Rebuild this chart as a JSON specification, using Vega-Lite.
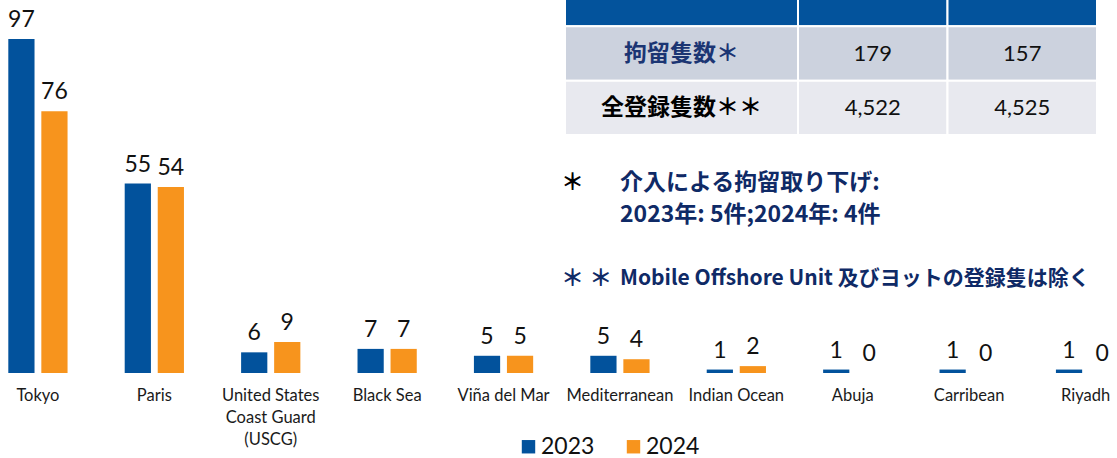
{
  "$schema": "https://vega.github.io/schema/vega-lite/v6.json",
  "width": 1117,
  "height": 373,
  "autosize": "none",
  "padding": {"left": 0, "top": 0, "right": 0, "bottom": 85},
  "background": "white",
  "config": {"view": {"stroke": null}, "font": "Lato"},
  "datasets": {
    "bars": [
      {"port": "Tokyo", "year": "2023", "count": 97},
      {"port": "Tokyo", "year": "2024", "count": 76},
      {"port": "Paris", "year": "2023", "count": 55},
      {"port": "Paris", "year": "2024", "count": 54},
      {"port": "United States Coast Guard (USCG)", "year": "2023", "count": 6},
      {"port": "United States Coast Guard (USCG)", "year": "2024", "count": 9},
      {"port": "Black Sea", "year": "2023", "count": 7},
      {"port": "Black Sea", "year": "2024", "count": 7},
      {"port": "Viña del Mar", "year": "2023", "count": 5},
      {"port": "Viña del Mar", "year": "2024", "count": 5},
      {"port": "Mediterranean", "year": "2023", "count": 5},
      {"port": "Mediterranean", "year": "2024", "count": 4},
      {"port": "Indian Ocean", "year": "2023", "count": 1},
      {"port": "Indian Ocean", "year": "2024", "count": 2},
      {"port": "Abuja", "year": "2023", "count": 1},
      {"port": "Abuja", "year": "2024", "count": 0},
      {"port": "Carribean", "year": "2023", "count": 1},
      {"port": "Carribean", "year": "2024", "count": 0},
      {"port": "Riyadh", "year": "2023", "count": 1},
      {"port": "Riyadh", "year": "2024", "count": 0}
    ],
    "table": [
      {"row": "header", "col": "label", "text": ""},
      {"row": "header", "col": "2023", "text": ""},
      {"row": "header", "col": "2024", "text": ""},
      {"row": "detained", "col": "label", "text": "拘留隻数＊"},
      {"row": "detained", "col": "2023", "text": "179"},
      {"row": "detained", "col": "2024", "text": "157"},
      {"row": "total", "col": "label", "text": "全登録隻数＊＊"},
      {"row": "total", "col": "2023", "text": "4,522"},
      {"row": "total", "col": "2024", "text": "4,525"}
    ],
    "notes": [
      {"line": "n1", "mark": "＊", "text": "介入による拘留取り下げ:"},
      {"line": "n2", "mark": "", "text": "2023年: 5件;2024年: 4件"},
      {"line": "n3", "mark": "＊ ＊", "text": "Mobile Offshore Unit 及びヨットの登録隻は除く"}
    ]
  },
  "resolve": {"scale": {"x": "independent", "y": "independent", "color": "independent", "size": "independent"}},
  "layer": [
    {
      "data": {"name": "bars"},
      "encoding": {
        "x": {
          "field": "port", "type": "nominal", "sort": null,
          "scale": {"paddingInner": 0.491, "paddingOuter": 0.0435, "align": 0.82},
          "axis": {
            "title": null, "domain": false, "ticks": false, "labelAngle": 0,
            "labelFont": "Lato", "labelFontSize": 16.5, "labelColor": "#1a1a1a",
            "labelPadding": 14, "labelLineHeight": 22, "labelBaseline": "top", "labelLimit": 0,
            "labelExpr": "datum.value === 'United States Coast Guard (USCG)' ? ['United States', 'Coast Guard', '(USCG)'] : datum.value"
          }
        },
        "xOffset": {"field": "year", "type": "nominal", "scale": {"paddingInner": 0.206, "paddingOuter": 0}},
        "y": {"field": "count", "type": "quantitative", "scale": {"domain": [0, 108.3], "nice": false, "zero": true}, "axis": null}
      },
      "layer": [
        {
          "mark": {"type": "bar"},
          "encoding": {
            "color": {
              "field": "year", "type": "nominal",
              "scale": {"domain": ["2023", "2024"], "range": ["#02529C", "#F7941D"]},
              "legend": {
                "orient": "none", "legendX": 517, "legendY": 435, "direction": "horizontal",
                "title": null, "symbolType": "square", "symbolSize": 180, "symbolStrokeWidth": 0,
                "labelFont": "Lato", "labelFontSize": 23, "labelColor": "#111111",
                "columnPadding": 27, "labelOffset": 1, "padding": 0
              }
            }
          }
        },
        {
          "mark": {"type": "text", "baseline": "alphabetic", "dy": -12, "fontSize": 23, "font": "Lato", "color": "#111111"},
          "encoding": {"text": {"field": "count", "type": "quantitative"}}
        }
      ]
    },
    {
      "data": {"name": "table"},
      "transform": [{"filter": "datum.col === 'label'"}],
      "encoding": {
        "x": {"field": "col", "type": "nominal", "scale": {"range": [565, 798], "paddingInner": 0, "paddingOuter": 0}, "axis": null},
        "y": {"field": "row", "type": "nominal", "sort": null, "scale": {"domain": ["header", "detained", "total"], "range": [-28, 135], "paddingInner": 0, "paddingOuter": 0}, "axis": null}
      },
      "layer": [
        {
          "mark": {"type": "rect", "stroke": "white", "strokeWidth": 2},
          "encoding": {
            "color": {"field": "row", "type": "nominal", "scale": {"domain": ["header", "detained", "total"], "range": ["#03539C", "#CCD2DE", "#E8E9EF"]}, "legend": null}
          }
        },
        {
          "mark": {"type": "text", "font": "Noto Sans CJK JP", "fontWeight": "bold", "fontSize": 23, "baseline": "middle"},
          "encoding": {
            "text": {"field": "text"},
            "color": {"condition": {"test": "datum.row === 'detained'", "value": "#1B3573"}, "value": "#000000"}
          }
        }
      ]
    },
    {
      "data": {"name": "table"},
      "transform": [{"filter": "datum.col !== 'label'"}],
      "encoding": {
        "x": {"field": "col", "type": "nominal", "scale": {"domain": ["2023", "2024"], "range": [798, 1097], "paddingInner": 0, "paddingOuter": 0}, "axis": null},
        "y": {"field": "row", "type": "nominal", "sort": null, "scale": {"domain": ["header", "detained", "total"], "range": [-28, 135], "paddingInner": 0, "paddingOuter": 0}, "axis": null}
      },
      "layer": [
        {
          "mark": {"type": "rect", "stroke": "white", "strokeWidth": 2},
          "encoding": {
            "color": {"field": "row", "type": "nominal", "scale": {"domain": ["header", "detained", "total"], "range": ["#03539C", "#CCD2DE", "#E8E9EF"]}, "legend": null}
          }
        },
        {
          "mark": {"type": "text", "font": "Lato", "fontSize": 22, "baseline": "middle", "color": "#111111"},
          "encoding": {"text": {"field": "text"}}
        }
      ]
    },
    {
      "data": {"name": "notes"},
      "transform": [{"fold": ["mark", "text"], "as": ["part", "value"]}],
      "mark": {"type": "text", "align": "left", "baseline": "middle", "font": "Noto Sans CJK JP", "fontWeight": "bold"},
      "encoding": {
        "x": {"field": "part", "type": "nominal", "scale": {"type": "point", "domain": ["mark", "text"], "range": [561, 620], "padding": 0}, "axis": null},
        "y": {"field": "line", "type": "nominal", "scale": {"type": "point", "domain": ["n1", "n2", "gap", "n3"], "range": [183, 279], "padding": 0}, "axis": null},
        "text": {"field": "value"},
        "size": {"condition": {"test": "datum.line === 'n3' && datum.part === 'text'", "value": 21}, "value": 23},
        "color": {"condition": {"test": "datum.part === 'mark' && datum.line === 'n1'", "value": "#000000"}, "value": "#0F2A66"}
      }
    }
  ]
}
